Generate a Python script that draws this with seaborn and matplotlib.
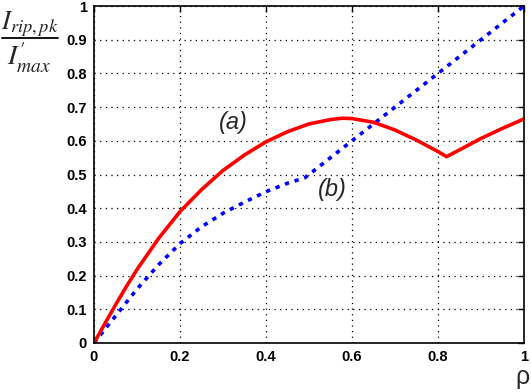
import matplotlib
matplotlib.use("Agg")
import matplotlib.pyplot as plt
from matplotlib.lines import Line2D
import seaborn as sns
import pandas as pd

rho_a = [0, 0.025, 0.05, 0.075, 0.1, 0.15, 0.2, 0.25, 0.3, 0.35, 0.4, 0.45, 0.5, 0.55, 0.577,
         0.6, 0.65, 0.7, 0.75, 0.8, 0.82, 0.85, 0.9, 0.95, 1.0]
val_a = [0, 0.057, 0.113, 0.167, 0.218, 0.31, 0.39, 0.455, 0.512, 0.558, 0.597, 0.627, 0.65,
         0.663, 0.667, 0.666, 0.655, 0.632, 0.602, 0.568, 0.553, 0.573, 0.607, 0.637, 0.665]
rho_b = [0, 0.05, 0.1, 0.15, 0.2, 0.25, 0.3, 0.35, 0.4, 0.45, 0.49, 0.6, 0.7, 0.8, 0.9, 1.0]
val_b = [0, 0.08, 0.16, 0.232, 0.295, 0.345, 0.385, 0.418, 0.449, 0.474, 0.49,
         0.6, 0.7, 0.8, 0.9, 1.0]
xticks = [0, 0.2, 0.4, 0.6, 0.8, 1]
xtick_labels = ["0", "0.2", "0.4", "0.6", "0.8", "1"]
yticks = [0, 0.1, 0.2, 0.3, 0.4, 0.5, 0.6, 0.7, 0.8, 0.9, 1]
ytick_labels = ["0", "0.1", "0.2", "0.3", "0.4", "0.5", "0.6", "0.7", "0.8", "0.9", "1"]

sns.set_style("white")
plt.rcParams['font.family'] = ['Liberation Sans', 'DejaVu Sans']
plt.rcParams['mathtext.fontset'] = 'stix'

df_a = pd.DataFrame({"rho": rho_a, "val": val_a})
df_b = pd.DataFrame({"rho": rho_b, "val": val_b})

W, H = 531, 392
fig = plt.figure(figsize=(W / 100, H / 100), dpi=100)
ax = fig.add_axes([94 / W, 49 / H, 430 / W, 337 / H])

sns.lineplot(data=df_b, x="rho", y="val", ax=ax, color="#0000ff", lw=2.6,
             linestyle=(0, (1.2, 1.6)))
sns.lineplot(data=df_a, x="rho", y="val", ax=ax, color="#ff0000", lw=2.6)

ax.set_xlim(0, 1)
ax.set_ylim(0, 1)
ax.set_xticks(xticks)
ax.set_xticklabels(xtick_labels)
ax.set_yticks(yticks)
ax.set_yticklabels(ytick_labels)
ax.set_xlabel("")
ax.set_ylabel("")
ax.grid(True, color="black", linestyle=(0, (1, 3.5)), lw=0.9)
ax.tick_params(direction="in", length=4, width=1, top=True, right=True,
               labelsize=10.5, pad=5, colors="black")
for lab in ax.get_xticklabels() + ax.get_yticklabels():
    lab.set_fontweight("bold")
for s in ax.spines.values():
    s.set_color("black")
    s.set_linewidth(1.2)

ax.text(0.325, 0.655, "(a)", fontsize=17, style="italic", ha="center", va="center")
ax.text(0.555, 0.455, "(b)", fontsize=17, style="italic", ha="center", va="center")

fig.text(522 / W, 1 - 377 / H, "ρ", fontsize=18, ha="center", va="center")

# y-axis label as a stacked fraction
fig.text(30 / W, 1 - 29 / H, r"$\mathit{I}_{\mathit{rip,pk}}$", fontsize=19,
         ha="center", va="baseline")
fig.text(29 / W, 1 - 66 / H, r"$\mathit{I}^{\prime}_{\mathit{max}}$", fontsize=20,
         ha="center", va="baseline")
fig.add_artist(Line2D([2 / W, 58 / W], [1 - 38 / H, 1 - 38 / H], color="black", lw=1.3,
                      transform=fig.transFigure))

fig.savefig("out.png", dpi=100)
